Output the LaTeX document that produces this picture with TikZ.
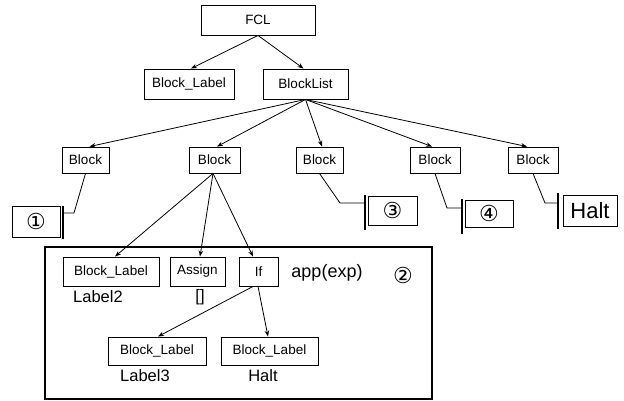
\documentclass[tikz,border=0pt]{standalone}
\usepackage{fontspec}
\setmainfont{Liberation Sans}
\newfontfamily\djv{DejaVu Sans}
\usetikzlibrary{arrows.meta}
\begin{document}
\begin{tikzpicture}[x=1pt,y=-1pt,
  bx/.style={draw,line width=0.9pt,inner sep=0pt,font=\fontsize{13.5}{14}\selectfont},
  lf/.style={draw,line width=0.9pt,inner sep=0pt},
  circ/.style={font=\djv\fontsize{22}{22}\selectfont},
  lbl/.style={font=\fontsize{16.5}{16.5}\selectfont,inner sep=0pt},
  arr/.style={line width=0.8pt,-{Stealth[length=6pt,width=4.5pt]}},
  ln/.style={line width=0.8pt},
  barl/.style={line width=1.1pt}]
\useasboundingbox (0,0) rectangle (624,401);
% top
\node[bx,minimum width=114pt,minimum height=30pt] (fcl) at (258,20) {FCL};
\node[bx,minimum width=90pt,minimum height=30pt] (bl0) at (189,84) {Block\_Label};
\node[bx,minimum width=85pt,minimum height=30pt] (blst) at (305.5,84) {BlockList};
\draw[arr] (fcl.south) -- ([xshift=2pt]bl0.north);
\draw[arr] (fcl.south) -- ([xshift=-2pt]blst.north);
% blocks
\node[bx,minimum width=47pt,minimum height=26pt] (b1) at (85.5,160) {Block};
\node[bx,minimum width=51pt,minimum height=26pt] (b2) at (214.5,160) {Block};
\node[bx,minimum width=47pt,minimum height=26pt] (b3) at (319.5,160) {Block};
\node[bx,minimum width=50pt,minimum height=26pt] (b4) at (435,160) {Block};
\node[bx,minimum width=50pt,minimum height=26pt] (b5) at (533,160) {Block};
\draw[arr] (blst.south) -- ([xshift=4pt]b1.north);
\draw[arr] (blst.south) -- ([xshift=2.5pt]b2.north);
\draw[arr] (blst.south) -- ([xshift=2.5pt]b3.north);
\draw[arr] (blst.south) -- ([xshift=-3pt]b4.north);
\draw[arr] (blst.south) -- ([xshift=-6pt]b5.north);
% leaves
\node[lf,minimum width=48pt,minimum height=31pt,circ] (l1) at (36,221.5) {①};
\node[lf,minimum width=49pt,minimum height=29pt,circ] (l3) at (392.5,210.5) {③};
\node[lf,minimum width=48pt,minimum height=27pt,circ] (l4) at (489,213.5) {④};
\node[lf,minimum width=54pt,minimum height=31pt,font=\fontsize{22}{22}\selectfont] (l5) at (590,210.5) {Halt};
\coordinate (t1a) at (63,206); \coordinate (t1b) at (63,239);
\coordinate (t3a) at (365,195); \coordinate (t3b) at (365,230);
\coordinate (t4a) at (462,199); \coordinate (t4b) at (462,234);
\coordinate (t5a) at (558,193); \coordinate (t5b) at (558,229);
\draw[barl] (t1a) -- (t1b);
\draw[barl] (t3a) -- (t3b);
\draw[barl] (t4a) -- (t4b);
\draw[barl] (t5a) -- (t5b);
\coordinate (k1) at (74,213); \coordinate (e1) at (63,213);
\coordinate (k3) at (340,203); \coordinate (e3) at (365,203);
\coordinate (k4) at (447,208); \coordinate (e4) at (462,208);
\coordinate (k5) at (545,203); \coordinate (e5) at (558,203);
\draw[ln] (b1.south) -- (k1) -- (e1);
\draw[ln] (b3.south) -- (k3) -- (e3);
\draw[ln] (b4.south) -- (k4) -- (e4);
\draw[ln] (b5.south) -- (k5) -- (e5);
% frame
\node[draw,line width=1.1pt,minimum width=387pt,minimum height=152pt,inner sep=0pt] (frame) at (238.5,323) {};
\node[bx,minimum width=96pt,minimum height=29pt] (bl2) at (111,271.5) {Block\_Label};
\node[bx,minimum width=55pt,minimum height=29pt] (as) at (197.5,271.5) {Assign};
\node[bx,minimum width=39pt,minimum height=29pt] (ifn) at (258.5,271.5) {If};
\node[lbl] (lab2) at (98,297) {Label2};
\node[lbl] (brk) at (200,297) {[]};
\node[lbl,font=\fontsize{18}{18}\selectfont] (app) at (327,273) {app(exp)};
\node[circ] (c2) at (403,275) {②};
\node[bx,minimum width=98pt,minimum height=28pt] (bl3) at (157,351) {Block\_Label};
\node[bx,minimum width=97pt,minimum height=28pt] (bl4) at (269.5,351) {Block\_Label};
\node[lbl] (lab3) at (145,376) {Label3};
\node[lbl] (halt2) at (263,376) {Halt};
\draw[arr] ([xshift=-1.5pt]b2.south) -- ([xshift=4pt]bl2.north);
\draw[arr] ([xshift=-1.5pt]b2.south) -- ([xshift=2.5pt]as.north);
\draw[arr] ([xshift=-1.5pt]b2.south) -- ([xshift=-5.5pt]ifn.north);
\draw[arr] ([xshift=-5.5pt]ifn.south) -- ([xshift=1pt]bl3.north);
\draw[arr] ([xshift=-0.5pt]ifn.south) -- ([xshift=-1.5pt]bl4.north);
\end{tikzpicture}
\end{document}
